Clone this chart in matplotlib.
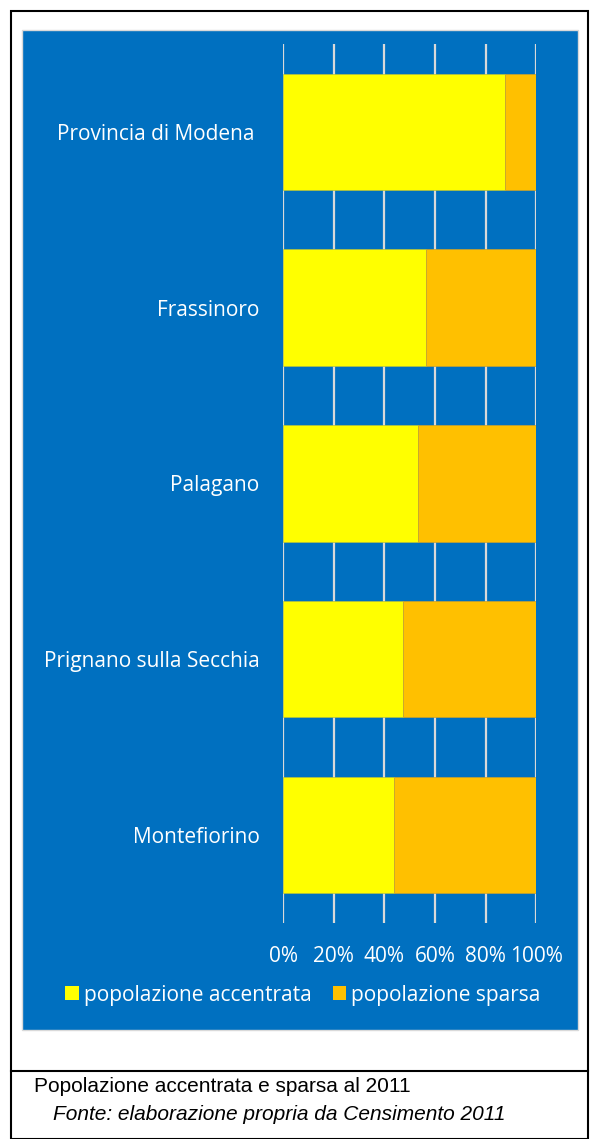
import matplotlib.pyplot as plt
from matplotlib.patches import Rectangle, Patch
from matplotlib.lines import Line2D

W, H = 599, 1139

comuni = ["Provincia di Modena ", "Frassinoro", "Palagano",
          "Prignano sulla Secchia", "Montefiorino"]
accentrata = [87.6, 56.6, 53.4, 47.4, 44.0]
sparsa = [12.4, 43.4, 46.6, 52.6, 56.0]
ticks = [0, 20, 40, 60, 80, 100]
tick_labels = ["0%", "20%", "40%", "60%", "80%", "100%"]

BLU = "#0070C0"
GIALLO = "#FFFF00"
ARANCIO = "#FFC000"
GRIGIO = "#D9D9D9"
FONT = ["Open Sans", "DejaVu Sans"]
FS = 15


def px(x, y):
    """pixel (dall'alto) -> frazione della figura"""
    return x / W, 1 - y / H


fig = plt.figure(figsize=(W / 100, H / 100), dpi=100)

# cornice esterna e riga della didascalia
fig.add_artist(Rectangle(px(10.5, 1139), 577.5 / W, 1128.5 / H,
                         transform=fig.transFigure, fill=False,
                         edgecolor="black", linewidth=1.5, zorder=-2))
fig.add_artist(Line2D([10.5 / W, 588 / W], [1 - 1071 / H] * 2,
                      transform=fig.transFigure, color="black",
                      linewidth=1.5, zorder=-2))

# sfondo blu del grafico
fig.add_artist(Rectangle(px(22, 1030), 556 / W, 1000 / H,
                         transform=fig.transFigure, facecolor=BLU,
                         edgecolor=GRIGIO, linewidth=1, zorder=-1))

left, top = px(283, 44)
right, bottom = px(536.3, 922.7)
ax = fig.add_axes([left, bottom, right - left, top - bottom])
ax.set_facecolor("none")

pos = list(range(len(comuni)))
ax.barh(pos, accentrata, height=0.663, color=GIALLO,
        edgecolor="#B5C040", linewidth=0.5, zorder=3)
ax.barh(pos, sparsa, left=accentrata, height=0.663, color=ARANCIO,
        edgecolor="#C8A030", linewidth=0.5, zorder=3)

ax.set_xlim(0, 100)
ax.set_ylim(len(comuni) - 0.5, -0.5)
ax.set_xticks(ticks)
ax.set_xticklabels(tick_labels)
ax.set_yticks(pos)
ax.set_yticklabels(comuni)
ax.xaxis.grid(True, color=GRIGIO, linewidth=1.6, zorder=1)
ax.set_axisbelow(True)
for s in ax.spines.values():
    s.set_visible(False)
ax.tick_params(axis="both", length=0, colors="white", labelsize=FS)
ax.tick_params(axis="x", pad=17)
ax.tick_params(axis="y", pad=17)
for lab in ax.get_xticklabels() + ax.get_yticklabels():
    lab.set_family(FONT)

# legenda
handles = [Patch(facecolor=GIALLO, label="popolazione accentrata"),
           Patch(facecolor=ARANCIO, label="popolazione sparsa")]
leg = fig.legend(handles=handles, loc="center", bbox_to_anchor=px(303, 995),
                 ncol=2, frameon=False, handlelength=0.65, handleheight=0.65,
                 handletextpad=0.25, columnspacing=1.0,
                 prop={"family": FONT, "size": FS})
for t in leg.get_texts():
    t.set_color("white")

# didascalia
fig.text(*px(34, 1086), "Popolazione accentrata e sparsa al 2011",
         family="Liberation Sans", fontsize=15, va="center", ha="left")
fig.text(*px(53, 1114), "Fonte: elaborazione propria da Censimento 2011",
         family="Liberation Sans", style="italic", fontsize=15,
         va="center", ha="left")

fig.savefig("out.png", dpi=100)
